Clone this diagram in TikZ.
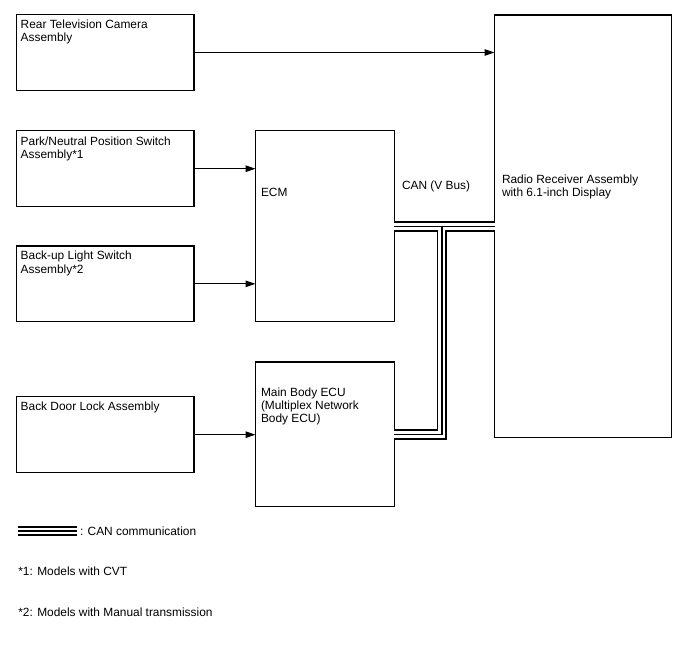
\documentclass[tikz,border=0pt]{standalone}
\usepackage{fontspec}
\setmainfont{Liberation Sans}
\usetikzlibrary{arrows.meta,calc}
\begin{document}
\begin{tikzpicture}[x=1pt,y=-1pt,
  box/.style={draw=black,line width=1.3pt,fill=none,inner sep=0pt,outer sep=0pt,anchor=north west},
  txt/.style={inner sep=0pt,outer sep=0pt,align=left,anchor=north west,font=\fontsize{11.9}{13.3}\selectfont},
  txtb/.style={inner sep=0pt,outer sep=0pt,anchor=base west,font=\fontsize{11.9}{13.3}\selectfont},
  arr/.style={line width=1.2pt,-{Triangle[length=10pt,width=6.5pt]}}]
\useasboundingbox (0,0) rectangle (688,658);
% boxes
\node[box,minimum width=177.3pt,minimum height=76.4pt] (cam) at (16.7,14.3) {};
\node[box,minimum width=177.3pt,minimum height=76pt] (pns) at (16.7,130.7) {};
\node[box,minimum width=177.3pt,minimum height=75.7pt] (bls) at (16.7,246) {};
\node[box,minimum width=177.3pt,minimum height=76pt] (bdl) at (16.7,396.7) {};
\node[box,minimum width=138.8pt,minimum height=191pt] (ecm) at (255.5,130.7) {};
\node[box,minimum width=138.8pt,minimum height=144.7pt] (mbe) at (255.5,362) {};
\node[box,minimum width=177pt,minimum height=422.7pt] (rad) at (494.5,15) {};
% texts
\node[txt] (camT) at (20.7,19.8) {Rear Television Camera\\Assembly};
\node[txt] (pnsT) at (20.7,137.0) {Park/Neutral Position Switch\\Assembly*1};
\node[txt] (blsT) at (20.7,251.3) {Back-up Light Switch\\Assembly*2};
\node[txt] (bdlT) at (20.7,402.3) {Back Door Lock Assembly};
\node[txtb] (ecmT) at (261,196) {ECM};
\node[txt] (mbeT) at (261,387.7) {Main Body ECU\\(Multiplex Network\\Body ECU)};
\node[txt] (radT) at (502,174.5) {Radio Receiver Assembly\\with 6.1-inch Display};
\node[txtb] (canT) at (402,189.5) {CAN (V Bus)};
% arrows
\draw[arr] (cam.east) -- (rad.west |- cam.east);
\draw[arr] (pns.east) -- (ecm.west |- pns.east);
\draw[arr] (bls.east) -- (ecm.west |- bls.east);
\draw[arr] (bdl.east) -- (mbe.west |- bdl.east);
% CAN bus
\coordinate (j) at (441.7,226.5);
\coordinate (jb) at (441.7,434.5);
\coordinate (lg1) at (18.3,531);
\coordinate (lg2) at (76.7,531);
\foreach \w/\c in {10.4/black,6.8/white,1.8/black}{
  \draw[line width=\w pt,draw=\c] (ecm.east |- j) -- (rad.west |- j);
  \draw[line width=\w pt,draw=\c,line join=miter] (j) -- (jb) -- (mbe.east |- jb);
}
\foreach \w/\c in {9.4/black,5.8/white,1.8/black}{
  \draw[line width=\w pt,draw=\c] (lg1) -- (lg2);
}
% legend
\node[txtb] (lgT) at (80,535) {: CAN communication};
\node[txtb] (n1) at (18.3,575.7) {*1: Models with CVT};
\node[txtb] (n2) at (18.3,616.7) {*2: Models with Manual transmission};
\end{tikzpicture}
\end{document}
